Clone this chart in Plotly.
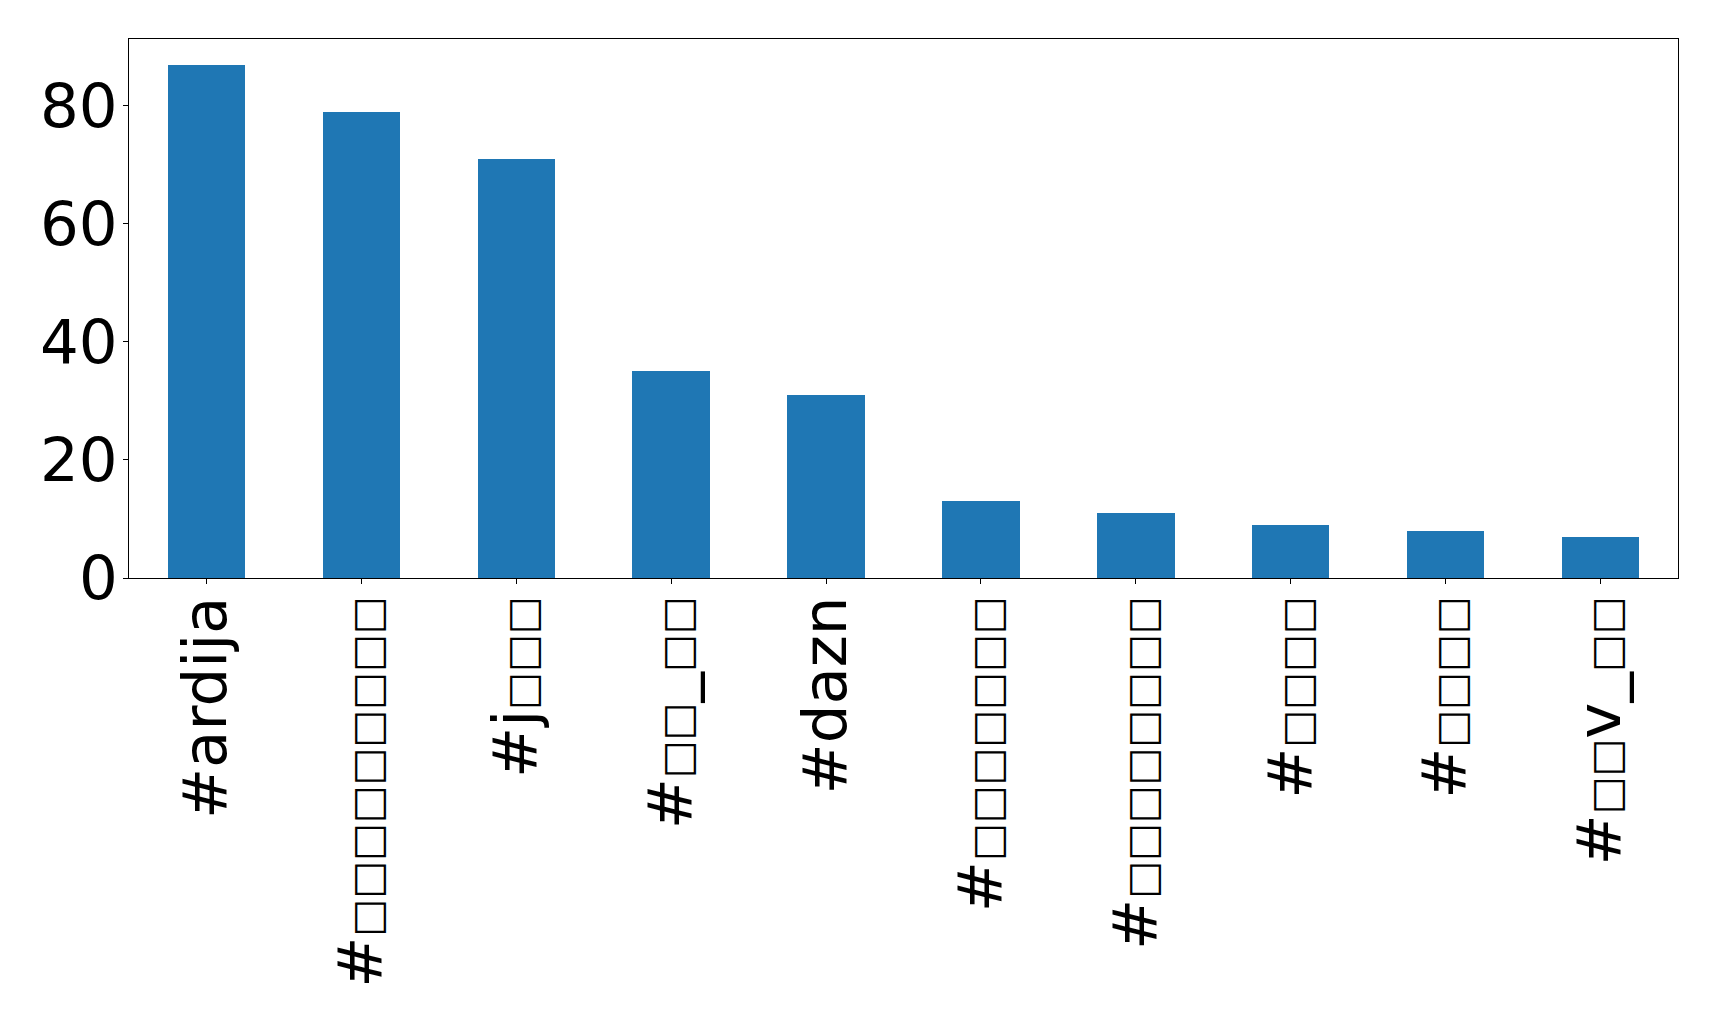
import plotly.graph_objects as go

# Tick labels (CJK glyphs rendered as missing-glyph boxes in the reference)
categories = [
    "#ardija",
    "#□□□□□□□□□",
    "#j□□□",
    "#□□_□□",
    "#dazn",
    "#□□□□□□□",
    "#□□□□□□□□",
    "#□□□□",
    "#□□□□",
    "#□□v_□□",
]
counts = [87, 79, 71, 35, 31, 13, 11, 9, 8, 7]
y_ticks = [0, 20, 40, 60, 80]


def styled(label):
    # draw the missing-glyph boxes at the size they take in the reference
    return "".join(
        '<span style="font-size:40px">□</span>' if ch == "□" else ch for ch in label
    )


fig = go.Figure(
    go.Bar(
        x=list(range(len(categories))),
        y=counts,
        width=0.5,
        marker=dict(color="#1f77b4", line=dict(width=0)),
    )
)

font = dict(family="DejaVu Sans", size=61, color="black")

fig.update_layout(
    width=1719,
    height=1018,
    margin=dict(l=121, r=49, t=31, b=448),
    paper_bgcolor="white",
    plot_bgcolor="white",
    showlegend=False,
    font=font,
    bargap=0,
)
fig.update_xaxes(
    automargin=False,
    tickmode="array",
    tickvals=list(range(len(categories))),
    ticktext=[styled(c) for c in categories],
    tickangle=-90,
    ticklabelstandoff=-12,
    range=[-0.5, len(categories) - 0.5],
    showline=True,
    linecolor="black",
    linewidth=1.2,
    mirror=True,
    ticks="outside",
    ticklen=5,
    tickwidth=1.2,
    tickcolor="black",
    showgrid=False,
    zeroline=False,
    tickfont=font,
)
fig.update_yaxes(
    automargin=False,
    tickmode="array",
    tickvals=y_ticks,
    ticktext=[str(v) for v in y_ticks],
    ticklabelstandoff=-7,
    range=[0, max(counts) * 1.05],
    showline=True,
    linecolor="black",
    linewidth=1.2,
    mirror=True,
    ticks="outside",
    ticklen=5,
    tickwidth=1.2,
    tickcolor="black",
    showgrid=False,
    zeroline=False,
    tickfont=font,
)

fig.write_html("out.html")
